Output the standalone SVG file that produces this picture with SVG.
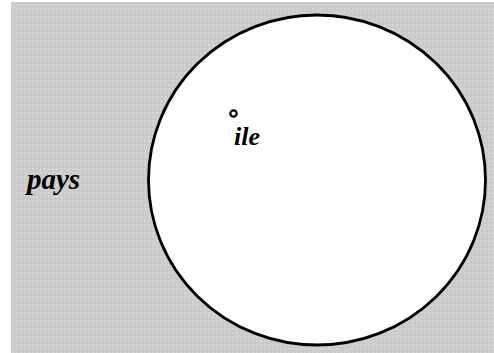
<svg xmlns="http://www.w3.org/2000/svg" width="494" height="353" viewBox="0 0 494 353">
<defs>
<pattern id="dots" width="4" height="4" patternUnits="userSpaceOnUse">
<rect width="4" height="4" fill="#cbcbcb"/>
<rect x="0" y="0" width="2" height="2" fill="#d4d4d4"/>
</pattern>
<style>
.lbl{font-family:"Liberation Serif","Times New Roman",serif;font-style:italic;font-weight:bold;fill:#000}
</style>
</defs>
<rect id="pays-area" x="11" y="2" width="483" height="351" fill="url(#dots)"/>
<g id="pays">
<text class="lbl" x="27" y="189" font-size="29">pays</text>
</g>
<g id="disk">
<ellipse cx="317" cy="180" rx="168.5" ry="165" fill="#fff" stroke="#000" stroke-width="2.8"/>
</g>
<g id="ile">
<circle cx="233.5" cy="113.5" r="3.2" fill="#fff" stroke="#000" stroke-width="2.2"/>
<text class="lbl" x="234" y="145" font-size="26">ile</text>
</g>
<g id="connectors"/>
</svg>
